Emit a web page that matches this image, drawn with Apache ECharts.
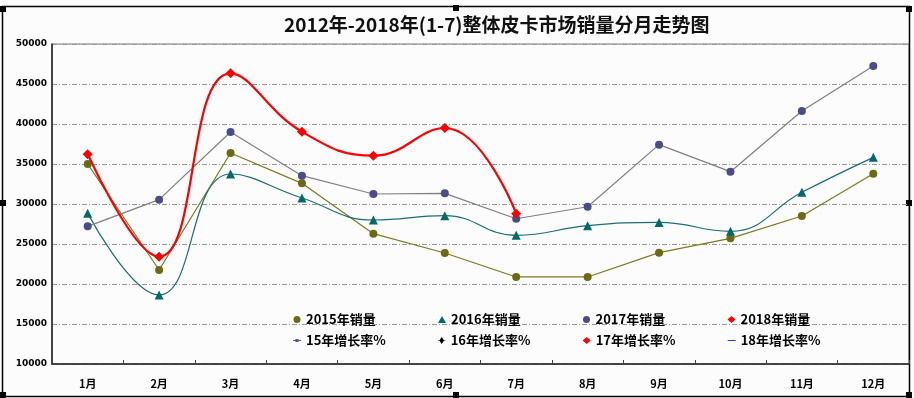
<!DOCTYPE html>
<html>
<head>
<meta charset="utf-8">
<script src="https://cdn.jsdelivr.net/npm/echarts@6/dist/echarts.min.js"></script>
<style>
html, body { margin: 0; padding: 0; background: #fff; }
#main { width: 914px; height: 398px; }
</style>
</head>
<body>
<div id="main"></div>
<script>
var months = ['1月', '2月', '3月', '4月', '5月', '6月', '7月', '8月', '9月', '10月', '11月', '12月'];
var sales2015 = [35000, 21750, 36380, 32580, 26290, 23880, 20880, 20880, 23920, 25710, 28500, 33790];
var sales2016 = [28830, 18630, 33750, 30750, 28000, 28540, 26080, 27290, 27700, 26580, 31460, 35830];
var sales2017 = [27210, 30540, 39000, 33540, 31250, 31330, 28160, 29660, 37420, 34040, 41630, 47250];
var sales2018 = [36210, 23410, 46330, 39040, 36040, 39500, 28790];
var yTicks = { min: 10000, max: 50000, interval: 5000 };

var font = '"Noto Sans CJK SC", "DejaVu Sans", sans-serif';

// little black handles round the frame, like a selected excel chart
var handles = [[0, 6], [453, 5], [906, 6], [0, 200], [906, 200], [0, 392], [453, 392], [906, 392]];
var graphics = [{
    type: 'rect',
    shape: { x: 2.5, y: 6.5, width: 907, height: 390 },
    style: { fill: null, stroke: '#000', lineWidth: 1.5 },
    silent: true
}];
handles.forEach(function (h) {
    graphics.push({
        type: 'rect',
        shape: { x: h[0], y: h[1], width: 6, height: 6 },
        style: { fill: '#000' },
        silent: true
    });
});

var option = {
    backgroundColor: '#fcfcfc',
    animation: false,
    textStyle: { fontFamily: font },
    title: {
        text: '2012年-2018年(1-7)整体皮卡市场销量分月走势图',
        left: 279,
        top: 10,
        textStyle: { fontSize: 19, fontWeight: 'bold', color: '#111', fontFamily: font }
    },
    graphic: graphics,
    grid: {
        left: 52,
        right: 5,
        top: 44,
        bottom: 34,
        show: true,
        borderColor: '#777',
        borderWidth: 1,
        backgroundColor: 'transparent'
    },
    legend: {
        left: 288,
        top: 308,
        width: 600,
        itemWidth: 8,
        itemHeight: 7,
        itemGap: 8,
        textStyle: { fontSize: 13, fontWeight: 'bold', color: '#000', width: 124, lineHeight: 11 },
        data: [
            { name: '2015年销量', icon: 'circle' },
            { name: '2016年销量', icon: 'triangle' },
            { name: '2017年销量', icon: 'circle' },
            { name: '2018年销量', icon: 'diamond' },
            { name: '15年增长率%', icon: 'path://M0,4H3V2.5H7V4H10V5H7V6.5H3V5H0Z' },
            { name: '16年增长率%', icon: 'path://M0,4.5H2L5,0L8,4.5H10V5H8L5,9.5L2,5H0Z' },
            { name: '17年增长率%', icon: 'diamond' },
            { name: '18年增长率%', icon: 'path://M0,4H10V5.2H0Z' }
        ]
    },
    xAxis: {
        type: 'category',
        data: months,
        axisLine: { lineStyle: { color: '#222', width: 1.5 } },
        axisTick: { show: true, inside: true, length: 4, lineStyle: { color: '#444' } },
        axisLabel: { fontSize: 11, fontWeight: 'bold', color: '#000', margin: 14 },
        splitLine: { show: false }
    },
    yAxis: {
        type: 'value',
        min: yTicks.min,
        max: yTicks.max,
        interval: yTicks.interval,
        axisLine: { show: true, lineStyle: { color: '#222', width: 1.5 } },
        axisTick: { show: false },
        axisLabel: {
            fontSize: 9, fontWeight: 'bold', color: '#000', margin: 5, fontFamily: 'DejaVu Sans',
            formatter: function (v) { return String(v); }
        },
        splitLine: { lineStyle: { color: '#999', type: [5, 2, 1, 2], width: 1 } }
    },
    series: [
        {
            name: '2015年销量',
            type: 'line',
            data: sales2015,
            symbol: 'circle',
            symbolSize: 8,
            itemStyle: { color: '#6b6b14' },
            lineStyle: { color: '#7a7a24', width: 1.2 },
            z: 3
        },
        {
            name: '2016年销量',
            type: 'line',
            data: sales2016,
            smooth: 0.45,
            symbol: 'triangle',
            symbolSize: 9,
            itemStyle: { color: '#006a6a' },
            lineStyle: { color: '#1f6e6e', width: 1.2 },
            z: 3
        },
        {
            name: '2017年销量',
            type: 'line',
            data: sales2017,
            symbol: 'circle',
            symbolSize: 8,
            itemStyle: { color: '#4b4b8c' },
            lineStyle: { color: '#808080', width: 1.2 },
            z: 3
        },
        {
            name: '2018年销量',
            type: 'line',
            data: sales2018,
            smooth: 0.45,
            symbol: 'diamond',
            symbolSize: 10,
            itemStyle: { color: '#ff0000' },
            lineStyle: { color: '#ff0000', width: 2.2 },
            z: 4
        },
        { name: '15年增长率%', type: 'line', data: [], itemStyle: { color: '#5a5a8a' } },
        { name: '16年增长率%', type: 'line', data: [], itemStyle: { color: '#000' } },
        { name: '17年增长率%', type: 'line', data: [], itemStyle: { color: '#ff0000' } },
        { name: '18年增长率%', type: 'line', data: [], itemStyle: { color: '#2a2aff' } }
    ]
};

var myChart = echarts.init(document.getElementById('main'));
myChart.setOption(option);
</script>
</body>
</html>
